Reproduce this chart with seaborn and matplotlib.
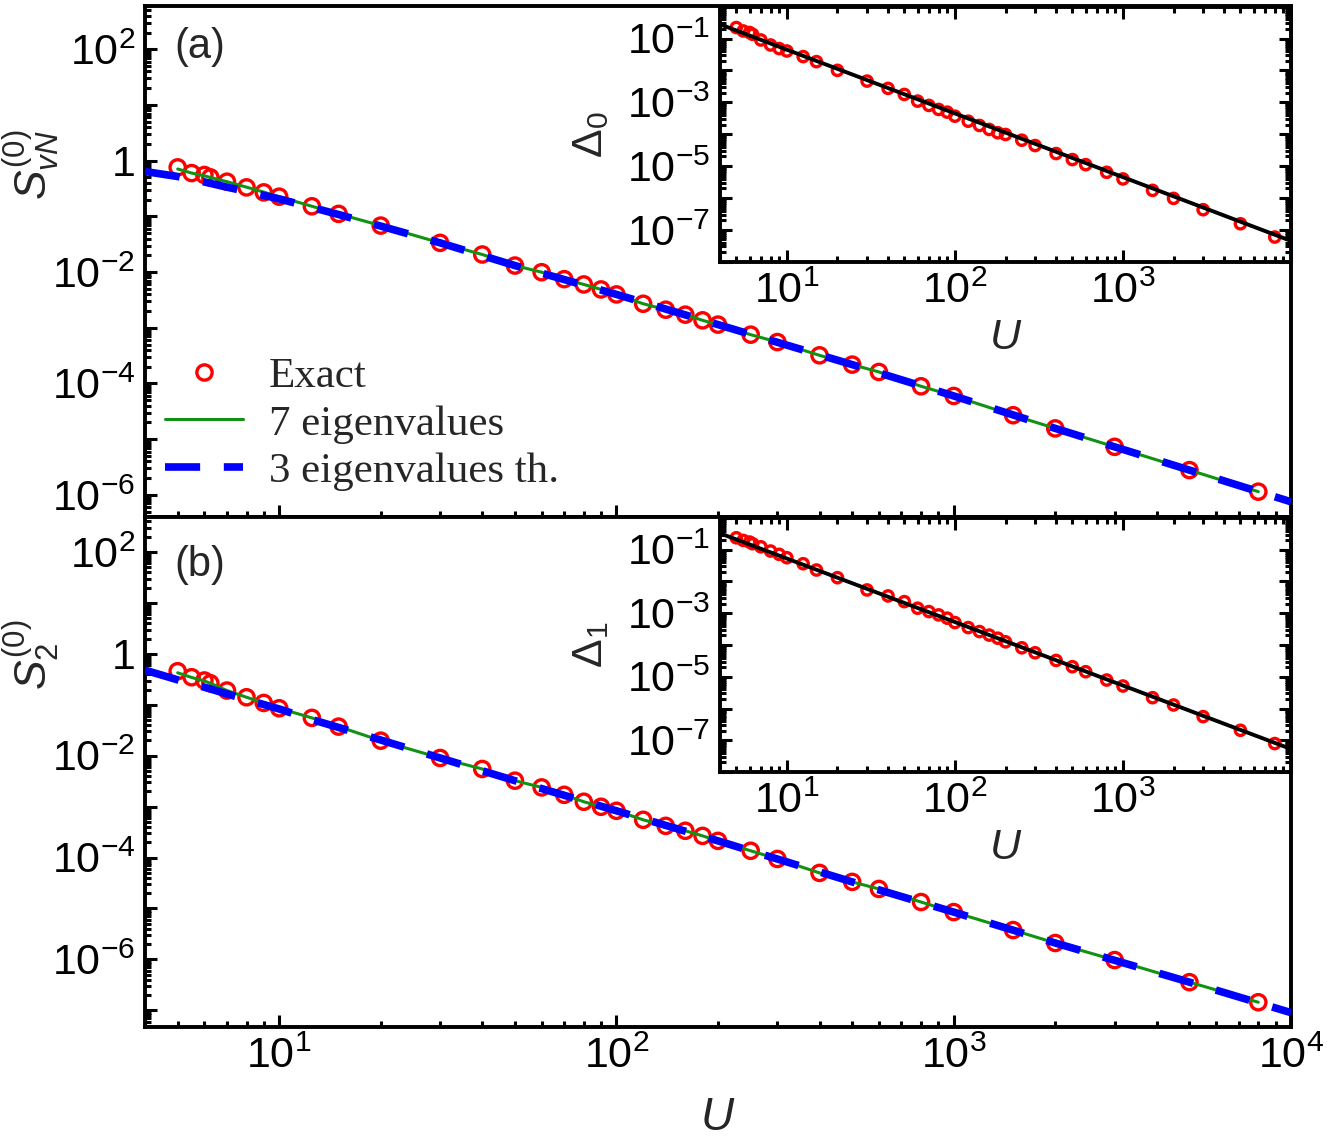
import math
import matplotlib
matplotlib.use("Agg")
import matplotlib.pyplot as plt
import matplotlib.ticker as mticker
from matplotlib.lines import Line2D
import seaborn as sns

# U values of the exact points (same grid in every panel)
U = [5, 5.5, 6, 6.25, 7, 8, 9, 10, 12.5, 15, 20, 30, 40, 50, 60, 70, 80, 90, 100,
     120, 140, 160, 180, 200, 250, 300, 400, 500, 600, 800, 1000, 1500, 2000,
     3000, 5000, 8000]

# panel (a): von Neumann entropy
svn_exact = [0.759, 0.60, 0.554, 0.502, 0.42, 0.332, 0.270, 0.226, 0.152, 0.111,
             0.0684, 0.0335, 0.0207, 0.0131, 0.00995, 0.00746, 0.0060, 0.00488,
             0.00397, 0.0027, 0.00211, 0.00172, 0.00136, 0.00114, 7.52e-4, 5.54e-4,
             3.2e-4, 2.18e-4, 1.61e-4, 8.9e-5, 5.97e-5, 2.69e-5, 1.56e-5, 7.28e-6,
             2.78e-6, 1.14e-6]
svn_7eig = [0.71, 0.60, 0.535, 0.50, 0.42, 0.335, 0.273, 0.225, 0.152, 0.111,
            0.0684, 0.0335, 0.0207, 0.0131, 0.00995, 0.00746, 0.0060, 0.00488,
            0.00397, 0.0027, 0.00211, 0.00172, 0.00136, 0.00114, 7.52e-4, 5.54e-4,
            3.2e-4, 2.18e-4, 1.61e-4, 8.9e-5, 5.97e-5, 2.69e-5, 1.56e-5, 7.28e-6,
            2.78e-6, 1.14e-6]

# theory curve (3 eigenvalues), drawn over the full U range
U_th = [4, 5, 6, 7, 8, 10, 12.5, 15, 20, 30, 50, 100, 200, 500, 1000, 2000, 5000, 10000]
svn_3eig = [0.64, 0.52, 0.415, 0.335, 0.28, 0.206, 0.145, 0.108, 0.067, 0.0335,
            0.0131, 0.00397, 0.00114, 2.18e-4, 5.97e-5, 1.56e-5, 2.78e-6, 7.5e-7]

# panel (b): Renyi-2 entropy
s2_exact = [0.458, 0.349, 0.301, 0.266, 0.191, 0.141, 0.109, 0.0857, 0.0555, 0.0374,
            0.0198, 0.00905, 0.0055, 0.00324, 0.00239, 0.00171, 0.00125, 9.95e-4,
            8.3e-4, 5.52e-4, 4.2e-4, 3.36e-4, 2.67e-4, 2.13e-4, 1.36e-4, 9.4e-5,
            5.0e-5, 3.33e-5, 2.42e-5, 1.34e-5, 8.5e-6, 3.77e-6, 2.1e-6, 9.7e-7,
            3.57e-7, 1.44e-7]
s2_7eig = [0.427, 0.345, 0.295, 0.265, 0.191, 0.141, 0.109, 0.0857, 0.0555, 0.0374,
           0.0198, 0.00905, 0.0055, 0.00324, 0.00239, 0.00171, 0.00125, 9.95e-4,
           8.3e-4, 5.52e-4, 4.2e-4, 3.36e-4, 2.67e-4, 2.13e-4, 1.36e-4, 9.4e-5,
           5.0e-5, 3.33e-5, 2.42e-5, 1.34e-5, 8.5e-6, 3.77e-6, 2.1e-6, 9.7e-7,
           3.57e-7, 1.44e-7]
s2_3eig = [0.48, 0.31, 0.222, 0.164, 0.127, 0.083, 0.0514, 0.036, 0.0204, 0.00905,
           0.00324, 8.3e-4, 2.13e-4, 3.33e-5, 8.5e-6, 2.1e-6, 3.57e-7, 9e-8]

# insets: gaps
delta0 = [0.222, 0.173, 0.155, 0.136, 0.0904, 0.0629, 0.0485, 0.0408, 0.0272, 0.0189,
          0.01007, 0.00464, 0.00274, 0.00177, 0.00109, 8.0e-4, 5.98e-4, 4.92e-4,
          3.68e-4, 2.56e-4, 1.88e-4, 1.41e-4, 1.11e-4, 9.8e-5, 6.48e-5, 4.41e-5,
          2.47e-5, 1.6e-5, 1.11e-5, 6.38e-6, 3.95e-6, 1.73e-6, 9.7e-7, 4.28e-7,
          1.55e-7, 5.94e-8]
delta1 = [0.238, 0.197, 0.175, 0.155, 0.124, 0.091, 0.0716, 0.0561, 0.0363, 0.023,
          0.0132, 0.00542, 0.00351, 0.00232, 0.00144, 0.00113, 8.88e-4, 7.0e-4,
          5.09e-4, 3.54e-4, 2.65e-4, 2.05e-4, 1.64e-4, 1.26e-4, 8.17e-5, 5.69e-5,
          3.26e-5, 2.07e-5, 1.44e-5, 7.89e-6, 5.11e-6, 2.19e-6, 1.29e-6, 5.55e-7,
          2.06e-7, 7.87e-8]
U_fit = [4, 10000]
delta0_fit = [0.28, 4.5e-8]
delta1_fit = [0.33, 5.3e-8]

sns.set_theme(style="ticks")
plt.rcParams["font.family"] = ["Liberation Sans", "DejaVu Sans"]
plt.rcParams.update({
    "mathtext.fontset": "custom",
    "mathtext.rm": "Liberation Sans",
    "mathtext.it": "Liberation Sans:italic",
    "mathtext.bf": "Liberation Sans:bold",
    "axes.linewidth": 2.8,
    "axes.edgecolor": "black",
})

TICK_FS = 31
LAB_FS = 32


def exp_label(v):
    return r"$\mathregular{10^{%d}}$" % round(math.log10(v))


def fmt_exp(parity):
    # label every second decade, "1" for 10^0
    def f(v, pos):
        k = round(math.log10(v))
        if (k - parity) % 2 != 0:
            return ""
        if k == 0:
            return "1"
        return exp_label(v)
    return f


def setup_log_axis(axis, lo, hi, parity):
    axis.set_major_locator(mticker.FixedLocator([10.0 ** k for k in range(lo, hi + 1)]))
    axis.set_minor_locator(mticker.LogLocator(base=10, subs=range(2, 10), numticks=100))
    axis.set_major_formatter(mticker.FuncFormatter(fmt_exp(parity)))
    axis.set_minor_formatter(mticker.NullFormatter())


def style_ticks(ax, inset=False):
    ax.tick_params(which="both", direction="in", colors="black", labelsize=TICK_FS,
                   top=inset, right=inset, width=2.2)
    ax.tick_params(which="major", length=8.5, pad=7)
    ax.tick_params(which="minor", length=4.5)


def draw_main(ax, s_exact, s7, s3, ylim):
    ax.set_xscale("log")
    ax.set_yscale("log")
    sns.scatterplot(x=U, y=s_exact, ax=ax, marker="o", s=121, color="red",
                    facecolor="none", edgecolor="red", linewidth=2.4, zorder=3)
    sns.lineplot(x=U, y=s7, ax=ax, color="#129212", lw=2.2, zorder=4)
    sns.lineplot(x=U_th, y=s3, ax=ax, color="#0000ff", lw=5.5,
                 linestyle=(0, (4.6, 3.1)), zorder=5)
    ax.set_xlim(4, 1e4)
    ax.set_ylim(*ylim)
    setup_log_axis(ax.xaxis, 0, 4, 1)
    ax.xaxis.set_major_formatter(mticker.FuncFormatter(lambda v, p: exp_label(v)))
    setup_log_axis(ax.yaxis, -8, 3, 0)
    style_ticks(ax)


def draw_inset(ax, delta, fit, ylab):
    ax.set_xscale("log")
    ax.set_yscale("log")
    ax.set_facecolor("white")
    sns.lineplot(x=U_fit, y=fit, ax=ax, color="black", lw=2.8, zorder=3)
    sns.scatterplot(x=U, y=delta, ax=ax, marker="o", s=55, color="red",
                    facecolor="none", edgecolor="red", linewidth=2.4, zorder=2)
    ax.set_xlim(4, 1e4)
    ax.set_ylim(1e-8, 1.0)
    setup_log_axis(ax.xaxis, 0, 4, 1)
    ax.xaxis.set_major_locator(mticker.FixedLocator([10, 100, 1000]))
    ax.xaxis.set_major_formatter(mticker.FuncFormatter(lambda v, p: exp_label(v)))
    setup_log_axis(ax.yaxis, -8, 0, 1)
    style_ticks(ax, inset=True)
    ax.set_xlabel(r"$U$", fontsize=31)
    ax.xaxis.set_label_coords(0.5, -0.22)
    ax.set_ylabel(ylab, fontsize=31)
    ax.yaxis.set_label_coords(-0.19, 0.5)


fig = plt.figure(figsize=(13.3, 11.42), dpi=100)
W, H = 1330.0, 1142.0

ax_a = fig.add_axes([145 / W, 1 - 517 / H, 1146 / W, 511 / H])
ax_b = fig.add_axes([145 / W, 1 - 1027 / H, 1146 / W, 510 / H])
draw_main(ax_a, svn_exact, svn_7eig, svn_3eig, (4e-7, 600))
draw_main(ax_b, s2_exact, s2_7eig, s2_3eig, (4.7e-8, 490))
ax_a.tick_params(labelbottom=False)

ax_a.set_ylabel(r"$S^{(0)}_{vN}$", fontsize=LAB_FS)
ax_a.yaxis.set_label_coords(-0.072, 0.69)
ax_b.set_ylabel(r"$S^{(0)}_{2}$", fontsize=LAB_FS)
ax_b.yaxis.set_label_coords(-0.072, 0.73)
ax_b.set_xlabel(r"$U$", fontsize=33)
ax_b.xaxis.set_label_coords(0.5, -0.135)

ax_a.text(0.026, 0.92, "(a)", transform=ax_a.transAxes, fontsize=30, va="center")
ax_b.text(0.026, 0.906, "(b)", transform=ax_b.transAxes, fontsize=30, va="center")

handles = [
    Line2D([], [], ls="none", marker="o", ms=11, mfc="none", mec="red", mew=2.4),
    Line2D([], [], color="#129212", lw=2.2),
    Line2D([], [], color="#0000ff", lw=5.5, ls=(0, (4.6, 3.1))),
]
ax_a.legend(handles, ["Exact", "7 eigenvalues", "3 eigenvalues th."],
            loc="center left", bbox_to_anchor=(0.0175, 0.182), frameon=False,
            borderpad=0, borderaxespad=0, handlelength=1.8, handletextpad=0.62,
            labelspacing=0.2, prop={"family": "Liberation Serif", "size": 31})

ins_a = fig.add_axes([720 / W, 1 - 261.7 / H, 571 / W, 255 / H])
ins_b = fig.add_axes([720 / W, 1 - 772 / H, 571 / W, 254 / H])
draw_inset(ins_a, delta0, delta0_fit, r"$\Delta_0$")
draw_inset(ins_b, delta1, delta1_fit, r"$\Delta_1$")

fig.savefig("out.png", dpi=100)
